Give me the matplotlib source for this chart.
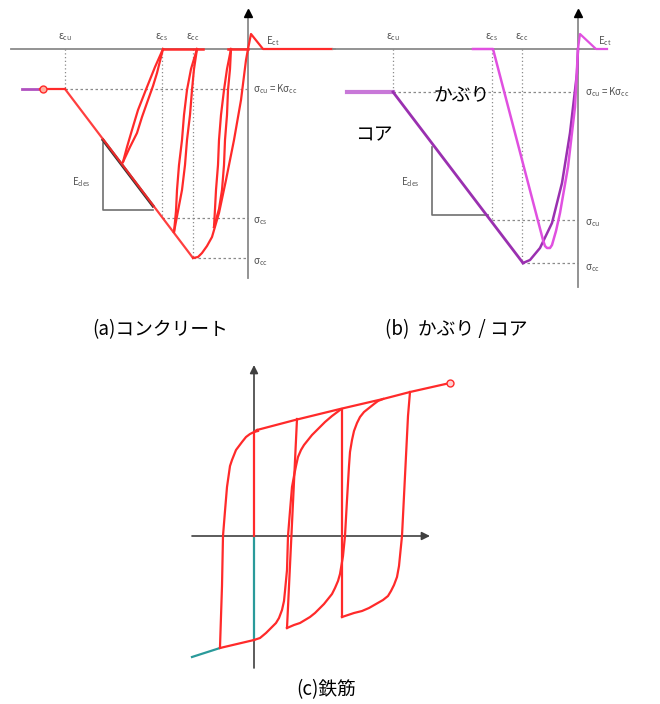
import matplotlib
matplotlib.use("Agg")
import matplotlib.pyplot as plt

plt.rcParams["font.family"] = ["Noto Sans CJK JP", "DejaVu Sans"]
plt.rcParams["mathtext.default"] = "regular"

# ---- (a) concrete, schematic units (strain right +, stress up +)
descEps = [-183, -55]
descSig = [-40, -209]
ascEps = [-55, -50, -46, -41, -36, -29, -22, -14, -7, -2, 0]
ascSig = [-209, -208, -204, -197, -188, -164, -131, -91, -51, -11, 0]
loop1Left = ([-125, -121, -116, -110, -101, -93, -85], [-113, -98, -81, -61, -38, -18, 0])
loop1Right = ([-125, -118, -111, -106, -100, -95, -91, -88, -85], [-113, -98, -84, -68, -51, -37, -24, -12, 0])
loop2Left = ([-74, -72, -71, -69, -66, -64, -61, -57, -51], [-183, -162, -141, -116, -91, -66, -41, -20, 0])
loop2Right = ([-74, -70, -66, -63, -61, -58, -56, -54, -51], [-183, -162, -141, -116, -91, -66, -41, -20, 0])
loop3Left = ([-34, -33, -32, -30, -29, -27, -24, -21, -17], [-178, -160, -141, -116, -91, -66, -41, -20, 0])
loop3Right = ([-34, -29, -26, -24, -23, -21, -20, -18, -17], [-178, -160, -141, -116, -91, -66, -41, -20, 0])
tensionEps = [0, 3, 15, 84]
tensionSig = [0, 15, 0, 0]
zeroSegs = [(-85, -45), (-20, 0)]
epsA = {"cu": -183, "cs": -86, "cc": -55}
sigA = {"cu": -40, "cs": -169, "cc": -209}

# ---- (b) cover / core
coreFlatEpsB = [-231, -185]
coreFlatSigB = [-43, -43]
coreDescEpsB = [-185, -55]
coreDescSigB = [-43, -214]
coreAscEpsB = [-55, -48, -38, -26, -16, -8, -1, 0]
coreAscSigB = [-214, -211, -199, -174, -134, -84, -24, 0]
coverEpsB = [-105, -85, -35, -33, -31, -28, -26, -22, -18, -10, -3, 0]
coverSigB = [0, 0, -191, -197, -199, -199, -196, -182, -164, -118, -58, 0]
tensionEpsB = [0, 2, 18, 29]
tensionSigB = [0, 15, 0, 0]
epsB = {"cu": -185, "cs": -86, "cc": -56}
sigB = {"cu": -43, "cs": -171, "cc": -214}

# ---- (c) reinforcing bar
upperEnvEps = [3, 41, 86, 129, 156, 196]
upperEnvSig = [106, 116, 127, 137, 144, 153]
lowerEnvEps = [-34, 0]
lowerEnvSig = [-112, -104]
tealEps = [-62, -34]
tealSig = [-121, -112]
curveA = ([4, 0, -4, -8, -12, -15, -18, -20, -22, -24, -25, -27, -29, -31, -32, -34],
          [105, 104, 102, 99, 94, 90, 86, 81, 76, 70, 63, 49, 25, 0, -50, -111])
curveB = ([0, 6, 12, 18, 22, 25, 28, 30, 31, 33, 34, 36, 38, 40, 42, 44, 47, 50, 54, 58, 64, 71, 78, 86],
          [-104, -102, -97, -91, -87, -82, -74, -65, -55, -34, 0, 25, 49, 60, 70, 79, 86, 91, 96, 101, 107, 114, 120, 126])
curveC = ([129, 124, 120, 115, 110, 106, 103, 100, 98, 96, 95, 93, 91, 89, 86, 84, 81, 78, 74, 70, 66, 61, 56, 51, 46, 40, 33],
          [137, 135, 132, 128, 124, 119, 113, 105, 96, 84, 70, 36, 0, -20, -38, -45, -52, -58, -63, -68, -72, -77, -81, -84, -87, -89, -92])
curveD = ([88, 94, 100, 108, 115, 122, 129, 134, 137, 140, 143, 145, 146, 148, 150, 152, 154, 156],
          [-81, -79, -77, -75, -72, -68, -64, -60, -55, -49, -41, -30, -20, 0, 40, 80, 120, 144])
unload1 = ([43, 33], [117, -92])
unload2 = ([88, 88], [127, -81])

RED = "#ff2a2a"
GRAY = "#8a8a8a"
LABEL = "#555555"


def drawConcreteAxes(ax, xLeft, xRight, yBottom, eps, sig):
    ax.plot([xLeft, xRight], [0, 0], color=GRAY, lw=1.3, zorder=1)
    ax.plot([0, 0], [yBottom, 36], color=GRAY, lw=1.3, zorder=1)
    ax.plot([0], [36], marker="^", color="black", ms=6, zorder=5)
    for k in eps:
        ax.plot([eps[k], eps[k]], [0, sig[k]], color=GRAY, lw=0.9, ls=(0, (1, 2)), zorder=1)
        ax.plot([eps[k], 0], [sig[k], sig[k]], color=GRAY, lw=0.9, ls=(0, (2, 2)), zorder=1)
        ax.text(eps[k], 12, "ε$_{%s}$" % k, fontsize=7, color=LABEL,
                ha="center", va="center")


def drawDesTriangle(ax, x0, y0, x1, y1):
    ax.plot([x0, x0, x1], [y0, y1, y1], color="#707070", lw=1.2, zorder=1)
    ax.text(x0 - 22, -133, "E$_{des}$", fontsize=7, color=LABEL,
            ha="center", va="center")


def plotConcrete(ax):
    drawConcreteAxes(ax, -237, 87, -229, epsA, sigA)
    drawDesTriangle(ax, -145, -94, -95, -161)
    ax.plot([-145, -95], [-91, -157], color="#333333", lw=2.2, zorder=2)
    ax.plot([-226, -208], [-40, -40], color="#b050c0", lw=2, zorder=3)
    ax.plot([-208, -183], [-40, -40], color=RED, lw=1.6, zorder=3)
    ax.plot([-205], [-40], marker="o", color=RED, mfc="#ffb0a0", ms=5, zorder=4)
    ax.plot(descEps, descSig, color=RED, lw=1.6, alpha=0.9, zorder=3)
    ax.plot(ascEps, ascSig, color=RED, lw=1.6, zorder=3)
    for e, s in [loop1Left, loop1Right, loop2Left, loop2Right, loop3Left, loop3Right]:
        ax.plot(e, s, color=RED, lw=1.6, zorder=3)
    for a, b in zeroSegs:
        ax.plot([a, b], [0, 0], color=RED, lw=1.8, zorder=3)
    ax.plot(tensionEps, tensionSig, color=RED, lw=1.6, zorder=3)
    ax.text(5, sigA["cu"], "σ$_{cu}$ = Kσ$_{cc}$", fontsize=7, color=LABEL, va="center")
    ax.text(5, sigA["cs"] - 3, "σ$_{cs}$", fontsize=7, color=LABEL, va="center")
    ax.text(5, sigA["cc"] - 4, "σ$_{cc}$", fontsize=7, color=LABEL, va="center")
    ax.text(18, 8, "E$_{ct}$", fontsize=7, color=LABEL, va="center")


def plotCoverCore(ax):
    drawConcreteAxes(ax, -245, 29, -238, epsB, sigB)
    drawDesTriangle(ax, -146, -98, -90, -166)
    core = "#9a30b0"
    cover = "#e050e0"
    ax.plot(coreFlatEpsB, coreFlatSigB, color="#c878d8", lw=3, zorder=3)
    ax.plot(coreDescEpsB, coreDescSigB, color=core, lw=2, zorder=3)
    ax.plot(coreAscEpsB, coreAscSigB, color=core, lw=1.8, zorder=3)
    ax.plot(coverEpsB, coverSigB, color=cover, lw=1.8, zorder=3)
    ax.plot(tensionEpsB, tensionSigB, color=cover, lw=1.6, zorder=3)
    ax.text(7, sigB["cu"], "σ$_{cu}$ = Kσ$_{cc}$", fontsize=7, color=LABEL, va="center")
    ax.text(7, sigB["cs"] - 3, "σ$_{cu}$", fontsize=7, color=LABEL, va="center")
    ax.text(7, sigB["cc"] - 5, "σ$_{cc}$", fontsize=7, color=LABEL, va="center")
    ax.text(20, 8, "E$_{ct}$", fontsize=7, color=LABEL, va="center")
    ax.text(-116, -46, "かぶり", fontsize=13.5, ha="center", va="center")
    ax.text(-204, -86, "コア", fontsize=13.5, ha="center", va="center")


def plotSteel(ax):
    ax.annotate("", xy=(0, 171), xytext=(0, -132),
                arrowprops=dict(arrowstyle="-|>", color="#404040", lw=1.2,
                                mutation_scale=12, shrinkA=0, shrinkB=0))
    ax.annotate("", xy=(176, 0), xytext=(-62, 0),
                arrowprops=dict(arrowstyle="-|>", color="#404040", lw=1.2,
                                mutation_scale=12, shrinkA=0, shrinkB=0))
    ax.plot([0, 0], [-104, 0], color="#2a9a9a", lw=1.6, zorder=3)
    ax.plot(tealEps, tealSig, color="#2a9a9a", lw=1.6, zorder=3)
    ax.plot([0, 0, 3], [0, 104, 106], color=RED, lw=1.6, zorder=3)
    ax.plot(upperEnvEps, upperEnvSig, color=RED, lw=1.6, zorder=3)
    ax.plot(lowerEnvEps, lowerEnvSig, color=RED, lw=1.6, zorder=3)
    for e, s in [curveA, curveB, curveC, curveD, unload1, unload2]:
        ax.plot(e, s, color=RED, lw=1.6, zorder=3)
    ax.plot([upperEnvEps[-1]], [upperEnvSig[-1]], marker="o", color=RED,
            mfc="#ffd0d0", ms=5, zorder=4)


def main():
    fig = plt.figure(figsize=(6.6, 7.04), dpi=100)
    W, H = 660.0, 704.0
    axA = fig.add_axes([0 / W, (H - 300) / H, 340 / W, 300 / H])
    axA.set_xlim(-248, 92)
    axA.set_ylim(-251, 49)
    axB = fig.add_axes([330 / W, (H - 300) / H, 330 / W, 300 / H])
    axB.set_xlim(-248, 82)
    axB.set_ylim(-251, 49)
    axC = fig.add_axes([180 / W, (H - 680) / H, 290 / W, 320 / H])
    axC.set_xlim(-74, 216)
    axC.set_ylim(-144, 176)
    for ax in (axA, axB, axC):
        ax.axis("off")

    plotConcrete(axA)
    plotCoverCore(axB)
    plotSteel(axC)

    fig.text(160 / W, 1 - 330 / H, "(a)コンクリート", fontsize=13.5, ha="center", va="center")
    fig.text(456 / W, 1 - 330 / H, "(b)  かぶり / コア", fontsize=13.5, ha="center", va="center")
    fig.text(326 / W, 1 - 690 / H, "(c)鉄筋", fontsize=13.5, ha="center", va="center")

    fig.savefig("out.png", dpi=100)


if __name__ == "__main__":
    main()
